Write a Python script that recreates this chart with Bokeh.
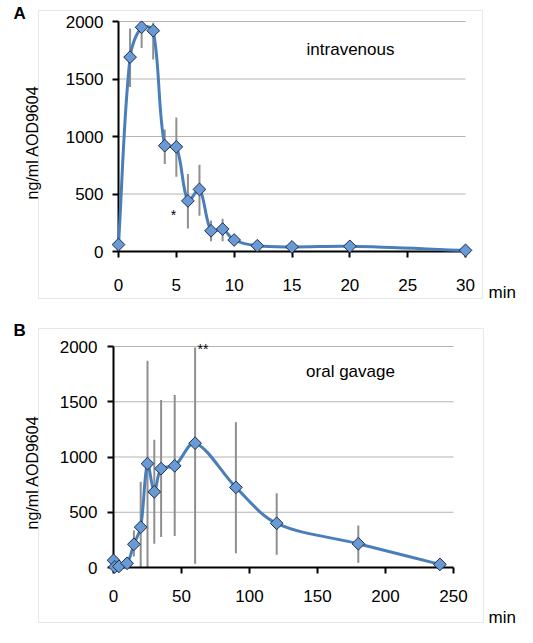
from math import pi

import numpy as np

from bokeh.embed import file_html
from bokeh.layouts import column
from bokeh.models import BoxAnnotation, FixedTicker, Label, Range1d
from bokeh.plotting import figure
from bokeh.resources import INLINE


# intravenous (panel A)
iv_time = [0, 1, 2, 3, 4, 5, 6, 7, 8, 9, 10, 12, 15, 20, 30]
iv_conc = [60, 1690, 1950, 1920, 920, 910, 440, 540, 180, 195, 100, 50, 40, 45, 10]
iv_err_time = [1, 2, 3, 4, 5, 6, 7, 8, 9, 10]
iv_err_low = [1430, 1770, 1670, 760, 650, 200, 310, 90, 90, 70]
iv_err_high = [1940, 2000, 1990, 1060, 1165, 675, 755, 270, 285, 130]
iv_xticks = [0, 5, 10, 15, 20, 25, 30]

# oral gavage (panel B)
og_time = [0, 1, 4, 10, 15, 20, 25, 30, 35, 45, 60, 90, 120, 180, 240]
og_conc = [65, 5, 10, 38, 210, 365, 940, 685, 895, 920, 1125, 725, 400, 215, 28]
og_err_time = [15, 20, 25, 30, 35, 45, 60, 90, 120, 180]
og_err_low = [100, 0, 0, 215, 275, 285, 35, 130, 115, 42]
og_err_high = [335, 775, 1870, 1155, 1515, 1560, 1990, 1315, 672, 380]
og_xticks = [0, 50, 100, 150, 200, 250]

yticks = [0, 500, 1000, 1500, 2000]

FONT = "Liberation Sans"
LINE = "#4a7ebb"
MARK = "#6a9ad6"
GRID = "#b3b3b3"
WIDTH = 533


class Panel:
    """Maps page pixels to data units for one boxed panel."""

    def __init__(self, top, height, x0, xs, y0, ys):
        self.top, self.height = top, height
        self.x0, self.xs, self.y0, self.ys = x0, xs, y0, ys

    def dx(self, px):
        return (px - self.x0) / self.xs

    def dy(self, py):
        return (self.y0 - py) / self.ys


def smooth(g, x, y):
    # bezier control points like a spreadsheet "smoothed line",
    # tangents weighted by the on-screen length of the neighbouring segments
    x = np.asarray(x, float)
    y = np.asarray(y, float)
    xp = np.concatenate([[x[0]], x, [x[-1]]])
    yp = np.concatenate([[y[0]], y, [y[-1]]])
    tx = (xp[2:] - xp[:-2]) / 6
    ty = (yp[2:] - yp[:-2]) / 6
    seg = np.hypot(np.diff(xp) * g.xs, np.diff(yp) * g.ys)
    d_prev, d_next = seg[:-1], seg[1:]
    tot = np.where(d_prev + d_next > 0, d_prev + d_next, 1)
    f_out = 2 * d_next / tot
    f_in = 2 * d_prev / tot
    return dict(x0=x[:-1], y0=y[:-1], x1=x[1:], y1=y[1:],
                cx0=x[:-1] + tx[:-1] * f_out[:-1], cy0=y[:-1] + ty[:-1] * f_out[:-1],
                cx1=x[1:] - tx[1:] * f_in[1:], cy1=y[1:] - ty[1:] * f_in[1:])


def text(g, px, py, s, **kw):
    opts = dict(text_font=FONT, text_font_size="17px", text_color="black")
    opts.update(kw)
    return Label(x=g.dx(px), y=g.dy(py), text=s, **opts)


def make_panel(g, time, conc, err_time, err_low, err_high, xticks, letter, route,
               box, letter_y, min_y, ylabel_y, route_y, x_standoff, y_standoff):
    # the frame covers the whole canvas so that nothing gets clipped
    p = figure(width=WIDTH, height=g.height, output_backend="svg", toolbar_location=None,
               x_range=Range1d(g.dx(0), g.dx(WIDTH)),
               y_range=Range1d(g.dy(g.top + g.height), g.dy(g.top)), min_border=0)
    p.outline_line_color = None
    p.grid.visible = False

    p.xaxis.fixed_location = 0
    p.yaxis.fixed_location = 0
    p.xaxis.ticker = FixedTicker(ticks=xticks)
    p.yaxis.ticker = FixedTicker(ticks=yticks)
    p.xaxis.bounds = (0, xticks[-1])
    p.yaxis.bounds = (0, yticks[-1])
    p.axis.axis_line_width = 2
    p.axis.axis_line_color = "black"
    p.axis.major_tick_in = 0
    p.axis.major_tick_out = 6
    p.axis.major_tick_line_width = 2
    p.axis.minor_tick_line_color = None
    p.axis.major_label_text_font = FONT
    p.axis.major_label_text_font_size = "17px"
    p.axis.major_label_text_color = "black"
    p.xaxis.major_label_standoff = x_standoff
    p.yaxis.major_label_standoff = y_standoff

    # outer box
    left, right, btop, bbottom = box
    p.add_layout(BoxAnnotation(left=g.dx(left), right=g.dx(right), top=g.dy(btop),
                               bottom=g.dy(bbottom), fill_alpha=0,
                               line_color="#b0b0b0", line_width=1, level="underlay"))

    # horizontal gridlines
    p.segment(x0=0, x1=xticks[-1], y0=yticks[1:], y1=yticks[1:], line_color=GRID, line_width=1)

    p.segment(x0=err_time, x1=err_time, y0=err_low, y1=err_high, line_color="#8f8f8f", line_width=2)

    curve = p.bezier(line_color=LINE, line_width=3, **smooth(g, time, conc))
    curve.level = "overlay"
    pts = p.scatter(time, conc, marker="square", angle=pi / 4, size=9,
                    fill_color=MARK, line_color="#1c2c48", line_width=1)
    pts.level = "overlay"

    p.add_layout(text(g, 13, letter_y, letter, text_font_style="bold"))
    p.add_layout(text(g, 488, min_y, "min"))
    p.add_layout(text(g, 32, ylabel_y, "ng/ml AOD9604", angle=pi / 2, text_font_size="16px",
                      text_align="center", text_baseline="middle"))
    p.add_layout(text(g, 350, route_y, route, text_align="center", text_baseline="middle"))
    return p


ga = Panel(top=0, height=320, x0=118, xs=347 / 30, y0=251, ys=230 / 2000)
gb = Panel(top=320, height=322, x0=113, xs=340 / 250, y0=567, ys=221 / 2000)

pa = make_panel(ga, iv_time, iv_conc, iv_err_time, iv_err_low, iv_err_high, iv_xticks,
                "A", "intravenous", (38, 482, 10, 298), 22, 301, 142, 49, 21, 9)
pa.add_layout(text(ga, 173, 214, "*", text_align="center", text_baseline="middle",
                   text_font_size="14px"))

pb = make_panel(gb, og_time, og_conc, og_err_time, og_err_low, og_err_high, og_xticks,
                "B", "oral gavage", (38, 483, 328, 622), 339, 626, 472, 371, 16, 10)
pb.add_layout(text(gb, 197, 348, "**", text_baseline="middle", text_font_size="14px"))

page = column(pa, pb, spacing=0)
open("out.html", "w").write(file_html(page, INLINE))
